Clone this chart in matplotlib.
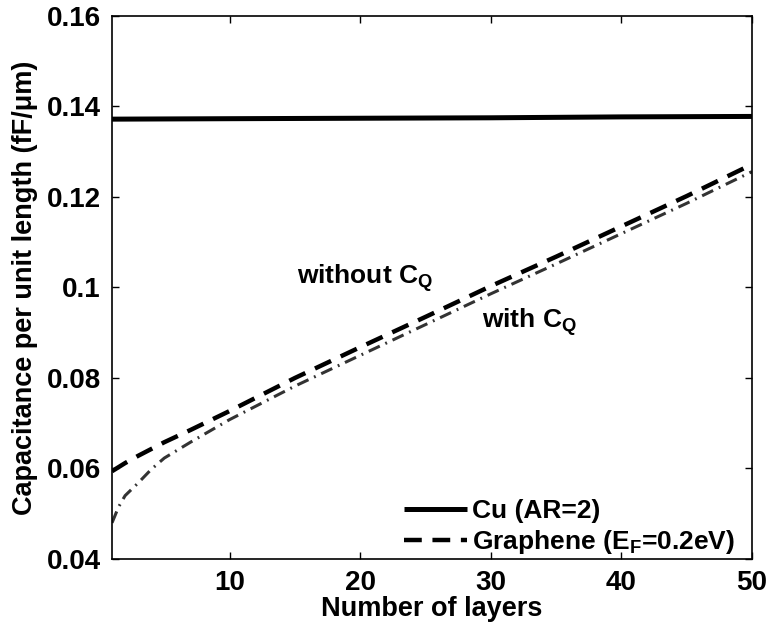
import matplotlib
matplotlib.use("Agg")
import matplotlib.pyplot as plt

plt.rcParams["font.family"] = ["Liberation Sans", "DejaVu Sans"]
plt.rcParams["mathtext.fontset"] = "custom"
plt.rcParams["mathtext.rm"] = "Liberation Sans:bold"
plt.rcParams["mathtext.it"] = "Liberation Sans:bold"
plt.rcParams["mathtext.bf"] = "Liberation Sans:bold"

# copper interconnect, aspect ratio 2
cu_layers = [1, 10, 20, 30, 40, 50]
cu_cap = [0.1372, 0.1373, 0.1374, 0.1375, 0.1377, 0.1378]

# multilayer graphene, without quantum capacitance
layers = [1, 2, 3, 5, 7, 10, 15, 20, 25, 30, 35, 40, 45, 50]
cap_no_cq = [0.0594, 0.0612, 0.0628, 0.0658, 0.0685, 0.0727, 0.0800,
             0.0868, 0.0935, 0.1003, 0.1068, 0.1135, 0.1202, 0.1272]

# multilayer graphene, with quantum capacitance
layers_cq = [1, 1.5, 2, 3, 4, 5, 7, 10, 15, 20, 25, 30, 35, 40, 45, 50]
cap_cq = [0.0480, 0.0515, 0.0540, 0.0568, 0.0598, 0.0623, 0.0658, 0.0708,
          0.0782, 0.0850, 0.0918, 0.0986, 0.1052, 0.1119, 0.1186, 0.1256]

xticks = [10, 20, 30, 40, 50]
yticks = [0.04, 0.06, 0.08, 0.1, 0.12, 0.14, 0.16]
ytick_labels = ["0.04", "0.06", "0.08", "0.1", "0.12", "0.14", "0.16"]

fig = plt.figure(figsize=(7.7, 6.29), dpi=100)
ax = fig.add_axes([0.1455, 0.1113, 0.8311, 0.8633])

ax.plot(cu_layers, cu_cap, color="black", lw=3.6, solid_capstyle="butt",
        label="Cu (AR=2)")
ax.plot(layers, cap_no_cq, color="black", lw=3.2, dashes=(4, 2.4),
        label=r"Graphene (E$_\mathregular{F}$=0.2eV)")
ax.plot(layers_cq, cap_cq, color="#333333", lw=2.2, dashes=(4, 2, 0.6, 2))

ax.text(15.2, 0.1021, r"without C$_\mathregular{Q}$", fontsize=19,
        fontweight="bold", va="center")
ax.text(29.3, 0.0924, r"with C$_\mathregular{Q}$", fontsize=19,
        fontweight="bold", va="center")

ax.set_xlim(1, 50)
ax.set_ylim(0.04, 0.16)
ax.set_xticks(xticks)
ax.set_yticks(yticks)
ax.set_yticklabels(ytick_labels)
ax.tick_params(direction="in", top=True, right=True, length=5, width=1,
               labelsize=20, pad=8)
for lab in ax.get_xticklabels() + ax.get_yticklabels():
    lab.set_fontweight("bold")
for sp in ax.spines.values():
    sp.set_linewidth(1.2)

ax.set_xlabel("Number of layers", fontsize=19.5, fontweight="bold",
              labelpad=0)
ax.set_ylabel("Capacitance per unit length (fF/μm)", fontsize=19.5,
              fontweight="bold", labelpad=6)

leg = ax.legend(loc="lower right", bbox_to_anchor=(0.98, -0.002),
                frameon=False, fontsize=19, handlelength=2.4,
                handletextpad=0.2, labelspacing=0.2,
                borderaxespad=0.1, borderpad=0.05)
for t in leg.get_texts():
    t.set_fontweight("bold")

fig.savefig("out.png", dpi=100)
